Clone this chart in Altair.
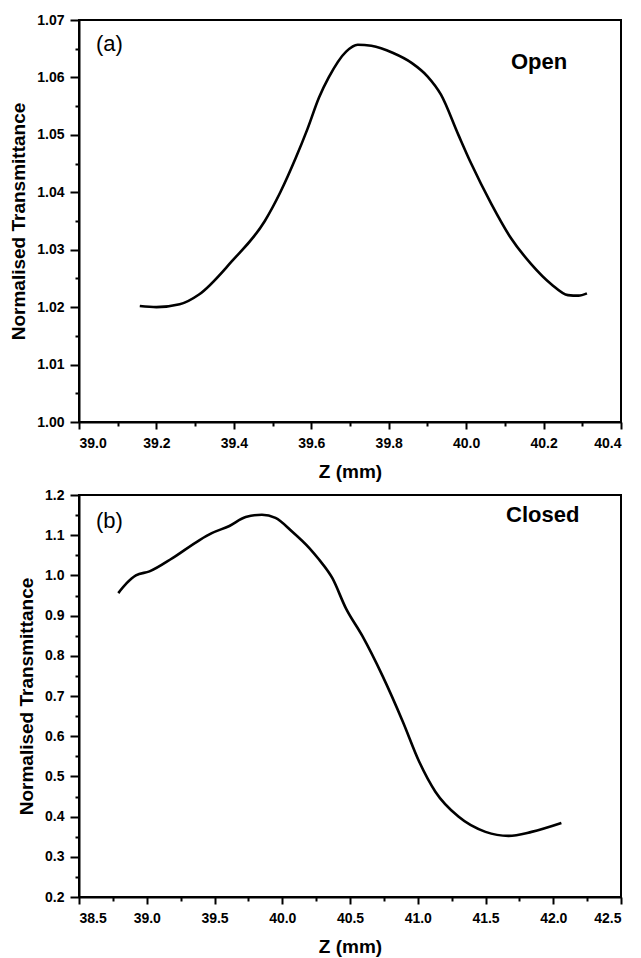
import altair as alt
import pandas as pd

# ---- data ----
open_z = [39.157, 39.20, 39.26, 39.31, 39.395, 39.48, 39.52, 39.56, 39.59, 39.62,
          39.645, 39.69, 39.72, 39.755, 39.81, 39.86, 39.90, 39.935, 39.98, 40.013,
          40.065, 40.116, 40.168, 40.22, 40.263, 40.29, 40.312]
open_t = [1.0202, 1.0200, 1.0205, 1.0222, 1.0280, 1.0350, 1.0400, 1.0460, 1.0510, 1.0565,
          1.0600, 1.0645, 1.0657, 1.0655, 1.0643, 1.0625, 1.0602, 1.0570, 1.0500, 1.0450,
          1.0380, 1.0320, 1.0275, 1.0240, 1.0221, 1.0220, 1.0224]

closed_z = [38.79, 38.85, 38.92, 39.02, 39.19, 39.39, 39.48, 39.61, 39.73, 39.85,
            39.95, 40.07, 40.20, 40.27, 40.37, 40.47, 40.59, 40.74, 40.89, 41.01,
            41.13, 41.30, 41.50, 41.67, 41.84, 42.06]
closed_t = [0.956, 0.980, 1.000, 1.010, 1.043, 1.088, 1.105, 1.123, 1.145, 1.151,
            1.143, 1.110, 1.068, 1.040, 0.993, 0.918, 0.850, 0.750, 0.636, 0.537,
            0.462, 0.400, 0.362, 0.352, 0.362, 0.384]

open_x_major = [39.0, 39.2, 39.4, 39.6, 39.8, 40.0, 40.2, 40.4]
open_x_minor = [39.1, 39.3, 39.5, 39.7, 39.9, 40.1, 40.3]
open_y_major = [1.00, 1.01, 1.02, 1.03, 1.04, 1.05, 1.06, 1.07]
open_y_minor = [1.005, 1.015, 1.025, 1.035, 1.045, 1.055, 1.065]

closed_x_major = [38.5, 39.0, 39.5, 40.0, 40.5, 41.0, 41.5, 42.0, 42.5]
closed_x_minor = [38.75, 39.25, 39.75, 40.25, 40.75, 41.25, 41.75, 42.25]
closed_y_major = [0.2, 0.3, 0.4, 0.5, 0.6, 0.7, 0.8, 0.9, 1.0, 1.1, 1.2]
closed_y_minor = [0.25, 0.35, 0.45, 0.55, 0.65, 0.75, 0.85, 0.95, 1.05, 1.15]

FONT = "Liberation Sans"
W, H = 542, 402


def panel(z, t, xdom, ydom, xmaj, xmin, ymaj, ymin, yfmt, tag, tag_pos, name, name_pos):
    df = pd.DataFrame({"z": z, "t": t})
    xs = alt.Scale(domain=xdom, nice=False, zero=False)
    ys = alt.Scale(domain=ydom, nice=False, zero=False)
    base = alt.Chart(df)
    line = base.mark_line(color="black", strokeWidth=2.6, interpolate="monotone").encode(
        x=alt.X("z:Q", scale=xs, axis=alt.Axis(
            values=xmaj, format=".1f", title="Z (mm)", tickSize=7, labelPadding=7,
            titlePadding=12, grid=False)),
        y=alt.Y("t:Q", scale=ys, axis=alt.Axis(
            values=ymaj, format=yfmt, title="Normalised Transmittance", tickSize=9,
            labelPadding=6, titlePadding=8, grid=False)),
    )
    minor = base.mark_line(opacity=0).encode(
        x=alt.X("z:Q", scale=xs, axis=alt.Axis(
            values=xmin, labels=False, tickSize=4, domain=False, title=None,
            orient="bottom", grid=False)),
        y=alt.Y("t:Q", scale=ys, axis=alt.Axis(
            values=ymin, labels=False, tickSize=4, domain=False, title=None,
            orient="left", grid=False)),
    )
    tag_txt = alt.Chart(pd.DataFrame({"s": [tag]})).mark_text(
        align="left", baseline="middle", font=FONT, fontSize=22, color="black"
    ).encode(x=alt.value(tag_pos[0]), y=alt.value(tag_pos[1]), text="s:N")
    name_txt = alt.Chart(pd.DataFrame({"s": [name]})).mark_text(
        align="left", baseline="middle", font=FONT, fontSize=22, fontWeight="bold", color="black"
    ).encode(x=alt.value(name_pos[0]), y=alt.value(name_pos[1]), text="s:N")
    return alt.layer(line, minor, tag_txt, name_txt).resolve_axis(
        x="independent", y="independent"
    ).properties(width=W, height=H)


top = panel(open_z, open_t, [39.0, 40.4], [1.00, 1.07], open_x_major, open_x_minor,
            open_y_major, open_y_minor, ".2f", "(a)", (17, 24), "Open", (432, 42))
bottom = panel(closed_z, closed_t, [38.5, 42.5], [0.2, 1.2], closed_x_major, closed_x_minor,
               closed_y_major, closed_y_minor, ".1f", "(b)", (17, 26), "Closed", (427, 20))

chart = alt.vconcat(top, bottom, spacing=5).properties(
    padding={"left": 0, "top": 4, "right": 0, "bottom": 0},
    background="white",
).configure_view(stroke="black", strokeWidth=2).configure_axis(
    labelFont=FONT, labelFontSize=14, labelFontWeight="bold", labelColor="black",
    titleFont=FONT, titleFontSize=19, titleFontWeight="bold", titleColor="black",
    domainColor="black", domainWidth=2, tickColor="black", tickWidth=2,
)

chart.save("out.html", embed_options={"renderer": "svg", "actions": False})
